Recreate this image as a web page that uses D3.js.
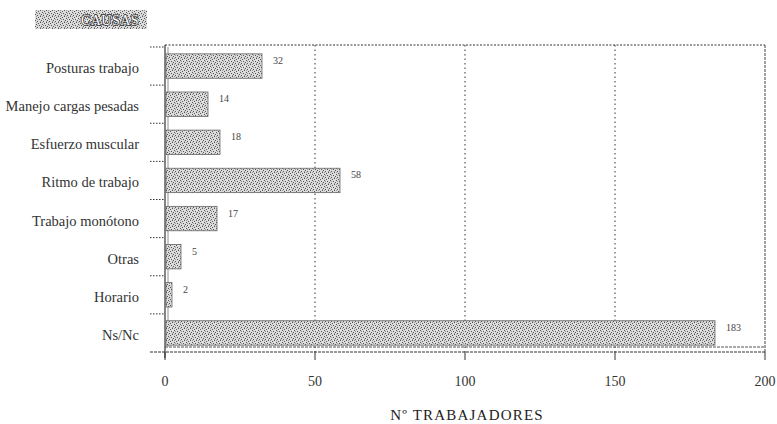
<!DOCTYPE html>
<html><head><meta charset="utf-8">
<script src="https://cdn.jsdelivr.net/npm/d3@7"></script>
<style>
body{margin:0;background:#fff;}
#c text{font-family:"Liberation Serif","Times New Roman","DejaVu Serif",serif;}
</style></head>
<body><svg id="c" width="777" height="424"></svg>
<script>
const categories = ["Posturas trabajo","Manejo cargas pesadas","Esfuerzo muscular","Ritmo de trabajo","Trabajo monótono","Otras","Horario","Ns/Nc"];
const values = [32,14,18,58,17,5,2,183];
const xTicks = [0,50,100,150,200];
const legendLabel = "CAUSAS";
const axisTitle = "Nº TRABAJADORES";

const svg = d3.select("#c");
const defs = svg.append("defs");
const pat = defs.append("pattern").attr("id","stip").attr("patternUnits","userSpaceOnUse")
  .attr("width",6).attr("height",6);
pat.append("rect").attr("width",6).attr("height",6).attr("fill","#dcdcdc");
[[0,0],[3,1],[1,3],[4,4],[2,5],[5,2]].forEach(p=>pat.append("rect").attr("x",p[0]).attr("y",p[1]).attr("width",1).attr("height",1).attr("fill","#555"));
[[1,1],[4,3],[0,4]].forEach(p=>pat.append("rect").attr("x",p[0]).attr("y",p[1]).attr("width",1).attr("height",1).attr("fill","#999"));

const x = d3.scaleLinear().domain([0,200]).range([165,765]);
const y = d3.scaleBand().domain(categories).range([47,352]).paddingInner(0.36).paddingOuter(0.18);
const yb = d3.scaleBand().domain(categories).range([47,352]);

// legend box
svg.append("rect").attr("x",35).attr("y",10).attr("width",112).attr("height",19).attr("fill","url(#stip)");
svg.append("text").attr("x",110).attr("y",25).attr("text-anchor","middle").attr("fill","#fff")
  .attr("font-size",14).attr("letter-spacing",0.5).attr("stroke","#333").attr("stroke-width",1.6)
  .attr("paint-order","stroke").text(legendLabel);

// frame: top + grid
svg.append("line").attr("x1",x(0)).attr("x2",x(200)).attr("y1",45).attr("y2",45)
  .attr("stroke","#333").attr("stroke-dasharray","2,1.5");
svg.selectAll(".grid").data(xTicks.slice(1)).enter().append("line")
  .attr("x1",d=>x(d)).attr("x2",d=>x(d)).attr("y1",45).attr("y2",352)
  .attr("stroke",d=>d===200?"#444":"#333").attr("stroke-dasharray",d=>d===200?"3,1":"1.5,3");

// floor lines
svg.append("line").attr("x1",x(0)).attr("x2",x(200)).attr("y1",347).attr("y2",347).attr("stroke","#555").attr("stroke-dasharray","3,1");
svg.append("line").attr("x1",150).attr("x2",x(200)).attr("y1",352).attr("y2",352).attr("stroke","#333").attr("stroke-dasharray","3,1");

// left axis
svg.append("line").attr("x1",x(0)).attr("x2",x(0)).attr("y1",45).attr("y2",358).attr("stroke","#333").attr("stroke-width",1.2);
svg.append("line").attr("x1",x(0)+3).attr("x2",x(0)+3).attr("y1",47).attr("y2",347).attr("stroke","#777").attr("stroke-width",0.8);
svg.selectAll(".lt").data(categories).enter().append("line")
  .attr("x1",150).attr("x2",x(0)).attr("y1",d=>yb(d)).attr("y2",d=>yb(d))
  .attr("stroke","#333").attr("stroke-dasharray","1.5,1.5");

// bars
svg.selectAll(".bar").data(values).enter().append("rect")
  .attr("x",x(0)+1).attr("y",(d,i)=>y(categories[i]))
  .attr("width",d=>x(d)-x(0)).attr("height",y.bandwidth())
  .attr("fill","url(#stip)").attr("stroke","#666").attr("stroke-width",0.8);

// value labels
svg.selectAll(".vl").data(values).enter().append("text")
  .attr("x",d=>x(d)+12).attr("y",(d,i)=>y(categories[i])+y.bandwidth()/2-2)
  .attr("font-size",10).attr("fill","#444").text(d=>d);

// category labels
svg.selectAll(".cl").data(categories).enter().append("text")
  .attr("x",139).attr("y",d=>yb(d)+yb.bandwidth()/2+7).attr("text-anchor","end")
  .attr("font-size",14.5).attr("fill","#333").text(d=>d);

// x ticks
svg.selectAll(".xt").data(xTicks).enter().append("line")
  .attr("x1",d=>x(d)).attr("x2",d=>x(d)).attr("y1",352).attr("y2",360).attr("stroke","#333");
svg.selectAll(".xl").data(xTicks).enter().append("text")
  .attr("x",d=>x(d)).attr("y",386).attr("text-anchor","middle")
  .attr("font-size",14).attr("fill","#333").text(d=>d);

svg.append("text").attr("x",467).attr("y",420).attr("text-anchor","middle")
  .attr("font-size",15).attr("letter-spacing",1.2).attr("fill","#222").text(axisTitle);
</script></body></html>
